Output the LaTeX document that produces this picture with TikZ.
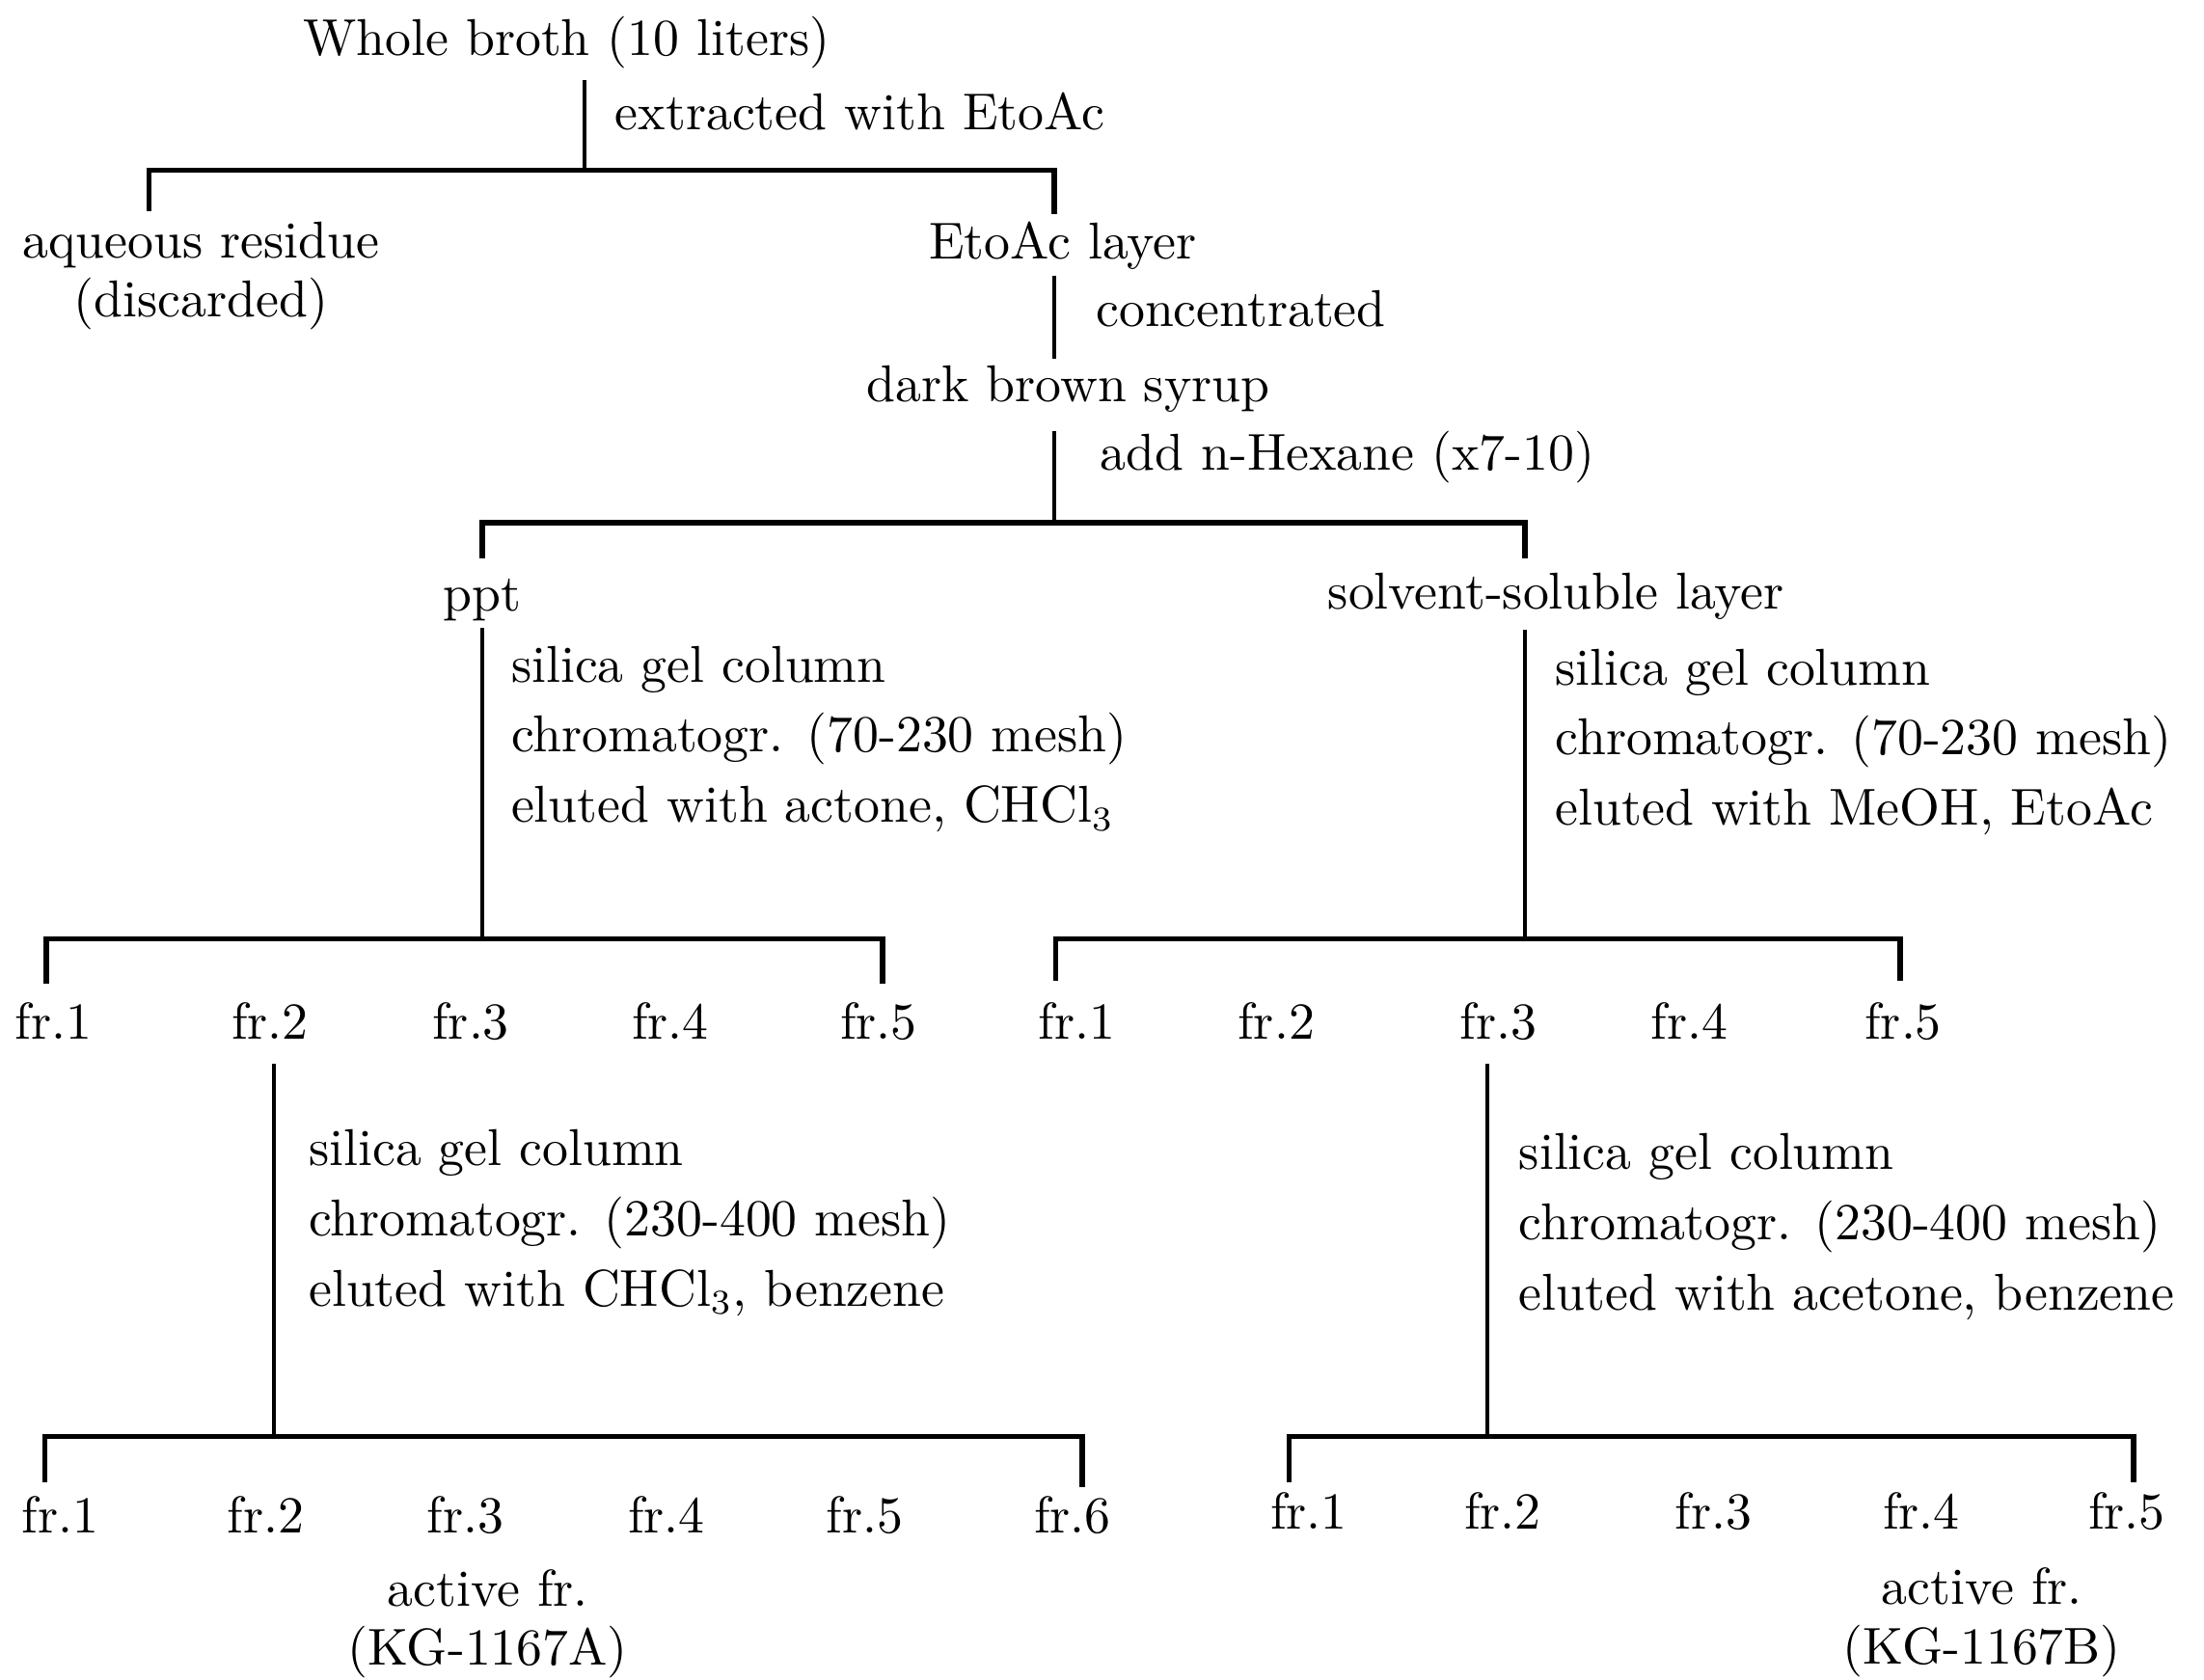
\documentclass[tikz,border=0pt]{standalone}
\usetikzlibrary{calc}

\begin{document}
\begin{tikzpicture}[
  font=\fontsize{10.5}{12}\selectfont,
  lab/.style={inner sep=0pt, anchor=base},
  proc/.style={inner sep=0pt, anchor=north west, align=left,
               font=\fontsize{10.5}{14.2}\selectfont},
  pair/.style={inner sep=0pt, anchor=north, align=center,
               font=\fontsize{10.5}{12}\selectfont},
  stem/.style={line width=0.75pt},
  bar/.style={line width=1.1pt},
]
  \useasboundingbox (0,0) rectangle (15.68,-11.95);

  % ----- Extraction -----
  \node[lab] (broth) at (4.03,-0.395) {Whole broth (10 liters)};
  \node[lab, anchor=base west] (ext) at (4.37,-0.92) {extracted with EtoAc};
  \node[pair] (aq) at (1.43,-1.57) {aqueous residue\\(discarded)};
  \node[lab] (eto) at (7.56,-1.845) {EtoAc layer};
  \node[lab, anchor=base west] (conc) at (7.79,-2.32) {concentrated};
  \node[lab] (syrup) at (7.60,-2.855) {dark brown syrup};
  \node[lab, anchor=base west] (hex) at (7.82,-3.345) {add n-Hexane (x7-10)};

  \coordinate (s1) at (4.16,-0.57);
  \coordinate (j1) at (4.16,-1.21);
  \coordinate (aqT) at (1.06,-1.50);
  \coordinate (etoT) at (7.50,-1.52);
  \draw[stem] (s1) -- (j1);
  \draw[bar] (aqT) |- (j1) -| (etoT);

  \coordinate (s2) at (7.50,-1.96);
  \coordinate (e2) at (7.50,-2.55);
  \draw[stem] (s2) -- (e2);

  % ----- Hexane split -----
  \node[lab] (ppt) at (3.43,-4.35) {ppt};
  \node[lab] (sol) at (11.07,-4.335) {solvent-soluble layer};

  \coordinate (s3) at (7.50,-3.07);
  \coordinate (j2) at (7.50,-3.72);
  \coordinate (pptT) at (3.43,-3.97);
  \coordinate (solT) at (10.85,-3.97);
  \draw[stem] (s3) -- (j2);
  \draw[bar] (pptT) |- (j2) -| (solT);

  % ----- First columns -----
  \node[proc] (col1) at (3.63,-4.59)
    {silica gel column\\chromatogr. (70-230 mesh)\\eluted with actone, CHCl$_3$};
  \node[proc] (col2) at (11.06,-4.61)
    {silica gel column\\chromatogr. (70-230 mesh)\\eluted with MeOH, EtoAc};

  \foreach \x [count=\i] in {0.38,1.92,3.35,4.77,6.25}
    \node[lab] (pa\i) at (\x,-7.395) {fr.\i};
  \foreach \x [count=\i] in {7.66,9.08,10.66,12.02,13.54}
    \node[lab] (sa\i) at (\x,-7.395) {fr.\i};

  \coordinate (s4) at (3.43,-4.47);
  \coordinate (j3) at (3.43,-6.68);
  \coordinate (paL) at (0.33,-7.00);
  \coordinate (paR) at (6.28,-7.00);
  \draw[stem] (s4) -- (j3);
  \draw[bar] (paL) |- (j3) -| (paR);

  \coordinate (s5) at (10.85,-4.48);
  \coordinate (j4) at (10.85,-6.68);
  \coordinate (saL) at (7.51,-6.98);
  \coordinate (saR) at (13.52,-6.98);
  \draw[stem] (s5) -- (j4);
  \draw[bar] (saL) |- (j4) -| (saR);

  % ----- Second columns -----
  \node[proc] (col3) at (2.19,-8.03)
    {silica gel column\\chromatogr. (230-400 mesh)\\eluted with CHCl$_3$, benzene};
  \node[proc] (col4) at (10.80,-8.06)
    {silica gel column\\chromatogr. (230-400 mesh)\\eluted with acetone, benzene};

  \foreach \x [count=\i] in {0.43,1.89,3.31,4.74,6.15,7.63}
    \node[lab] (pb\i) at (\x,-10.91) {fr.\i};
  \foreach \x [count=\i] in {9.31,10.69,12.19,13.67,15.13}
    \node[lab] (sb\i) at (\x,-10.88) {fr.\i};

  \coordinate (s6) at (1.95,-7.57);
  \coordinate (j5) at (1.95,-10.22);
  \coordinate (pbL) at (0.32,-10.55);
  \coordinate (pbR) at (7.70,-10.58);
  \draw[stem] (s6) -- (j5);
  \draw[bar] (pbL) |- (j5) -| (pbR);

  \coordinate (s7) at (10.58,-7.57);
  \coordinate (j6) at (10.58,-10.22);
  \coordinate (sbL) at (9.17,-10.55);
  \coordinate (sbR) at (15.18,-10.55);
  \draw[stem] (s7) -- (j6);
  \draw[bar] (sbL) |- (j6) -| (sbR);

  % ----- Active fractions -----
  \node[pair] (actA) at (3.47,-11.16) {active fr.\\(KG-1167A)};
  \node[pair] (actB) at (14.10,-11.15) {active fr.\\(KG-1167B)};
\end{tikzpicture}
\end{document}
